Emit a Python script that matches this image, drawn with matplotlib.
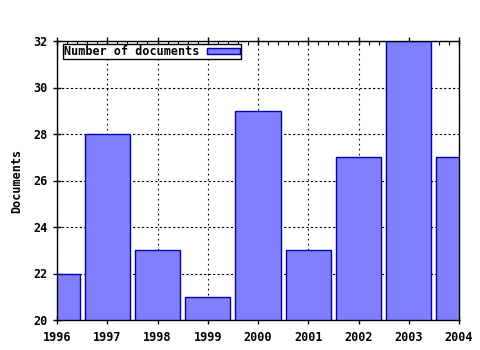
import numpy as np
import matplotlib
matplotlib.use("Agg")
import matplotlib.pyplot as plt
from matplotlib.ticker import MultipleLocator

years = [1996, 1997, 1998, 1999, 2000, 2001, 2002, 2003, 2004]
docs = [22, 28, 23, 21, 29, 23, 27, 32, 27]

plt.rcParams['font.family'] = 'DejaVu Sans Mono'
plt.rcParams['font.weight'] = 'bold'
plt.rcParams['font.size'] = 8.5

fig = plt.figure(figsize=(4.8, 3.5), dpi=100)
ax = fig.add_axes([57/480, 30/350, 402/480, 279/350])

ax.bar(years, docs, width=0.9, color='#8080ff', edgecolor='#0000b0',
       linewidth=1.0, label='Number of documents', zorder=2)

ax.set_xlim(1996, 2004)
ax.set_ylim(20, 32)
ax.set_xticks(years)
ax.set_yticks(range(20, 33, 2))
ax.xaxis.set_minor_locator(MultipleLocator(0.2))
ax.tick_params(which='major', direction='inout', length=6, width=1, top=True, right=False)
ax.tick_params(axis='x', which='major', pad=5)
ax.tick_params(axis='y', which='major', pad=4)
ax.tick_params(axis='x', which='minor', direction='in', length=3, width=0.8, top=True, bottom=True)
ax.xaxis.grid(True, which='major', linestyle=(0, (1.5, 3)), color='black', linewidth=0.8)
ax.yaxis.grid(True, which='major', linestyle=(0, (2, 2)), color='black', linewidth=0.8)
ax.set_axisbelow(True)
for s in ax.spines.values():
    s.set_linewidth(1)

ax.set_ylabel('Documents', fontweight='bold', labelpad=7)

leg = ax.legend(loc='upper left', bbox_to_anchor=(6/402, 1 - 3/279), frameon=True,
                fancybox=False, edgecolor='black', framealpha=1,
                markerfirst=False, handlelength=2.8, handleheight=0.5,
                borderpad=0.1, handletextpad=0.6, borderaxespad=0.0)
leg.get_frame().set_linewidth(1)

fig.savefig('out.png', dpi=100)
